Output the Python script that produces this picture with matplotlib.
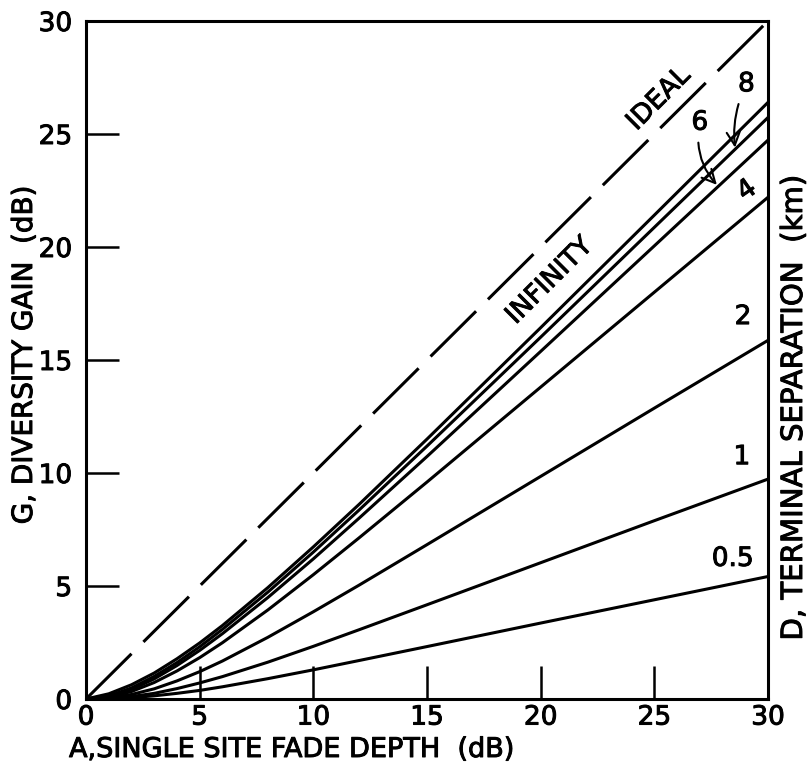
import matplotlib
matplotlib.use("Agg")
import matplotlib.pyplot as plt
import matplotlib.patheffects as pe

# Single site fade depth A (dB)
fade_depth = [0, 1, 2, 3, 4, 5, 6, 8, 10, 12, 15, 20, 25, 30]

# Diversity gain G (dB) for each terminal separation D
gain_inf = [0, 0.23, 0.63, 1.15, 1.78, 2.48, 3.25, 4.93, 6.73, 8.60, 11.50, 16.43, 21.41, 26.40]
gain_d8 = [0, 0.13, 0.49, 1.00, 1.61, 2.31, 3.08, 4.73, 6.50, 8.35, 11.19, 16.01, 20.87, 25.73]
gain_d6 = [0, 0.11, 0.42, 0.89, 1.48, 2.15, 2.89, 4.49, 6.20, 7.99, 10.73, 15.38, 20.05, 24.73]
gain_d4 = [0, 0.08, 0.33, 0.73, 1.24, 1.83, 2.49, 3.94, 5.50, 7.12, 9.60, 13.80, 18.00, 22.20]
gain_d2 = [0, 0.04, 0.20, 0.45, 0.80, 1.21, 1.68, 2.73, 3.86, 5.03, 6.83, 9.85, 12.87, 15.87]
gain_d1 = [0, 0.02, 0.11, 0.25, 0.46, 0.71, 0.99, 1.63, 2.33, 3.06, 4.17, 6.03, 7.89, 9.73]
gain_d05 = [0, 0.01, 0.06, 0.14, 0.25, 0.38, 0.54, 0.90, 1.29, 1.70, 2.32, 3.36, 4.39, 5.42]

ideal_line = [0, 30]

ticks = [0, 5, 10, 15, 20, 25, 30]
tick_labels = ["0", "5", "10", "15", "20", "25", "30"]

plt.rcParams["font.family"] = ["DejaVu Sans"]

# slightly heavier strokes for the hand-lettered look
heavy = [pe.withStroke(linewidth=0.7, foreground="black")]

fig = plt.figure(figsize=(8.09, 7.69), dpi=100)
ax = fig.add_axes([86 / 809, 70 / 769, 682 / 809, 678 / 769])

lw = 2.2
ax.plot(ideal_line, ideal_line, color="black", lw=lw,
        linestyle=(0, (21, 5.5)), solid_capstyle="butt")
for g in (gain_inf, gain_d8, gain_d6, gain_d4, gain_d2, gain_d1, gain_d05):
    ax.plot(fade_depth, g, color="black", lw=lw, solid_capstyle="round")

ax.set_xlim(0, 30)
ax.set_ylim(0, 30)
for side in ("left", "bottom", "right", "top"):
    ax.spines[side].set_linewidth(2.2)

ax.set_xticks(ticks)
ax.set_xticklabels(tick_labels)
ax.set_yticks(ticks)
ax.set_yticklabels(tick_labels)
ax.tick_params(axis="both", direction="in", length=24, width=1.8,
               labelsize=19)
ax.tick_params(axis="x", pad=4)
ax.tick_params(axis="y", pad=10)
for lab in ax.get_xticklabels() + ax.get_yticklabels():
    lab.set_path_effects(heavy)

# Axis titles
fig.text(69 / 809, 1 - 750 / 769, "A,SINGLE SITE FADE DEPTH  (dB)",
         fontsize=19.5, ha="left", va="center", path_effects=heavy)
fig.text(24 / 809, 1 - 355 / 769, "G, DIVERSITY GAIN  (dB)",
         fontsize=20, ha="center", va="center", rotation=90,
         path_effects=heavy)
fig.text(794 / 809, 1 - 408 / 769, "D, TERMINAL SEPARATION  (km)",
         fontsize=21, ha="center", va="center", rotation=90,
         path_effects=heavy)

# Curve labels
txt = dict(fontsize=19, ha="center", va="center", path_effects=heavy)
ax.text(25.2, 26.55, "IDEAL", rotation=45, **txt)
ax.text(20.4, 18.5, "INFINITY", rotation=45, **txt)
ax.text(29.08, 22.5, "4", rotation=35, **txt)
ax.text(28.9, 16.9, "2", **txt)
ax.text(28.85, 10.7, "1", **txt)
ax.text(28.45, 6.2, "0.5", **txt)

arrow = dict(arrowstyle="->,head_length=0.5,head_width=0.25", color="black",
             lw=1.5, shrinkA=3, shrinkB=0)
ax.annotate("8", xy=(28.55, 24.4), xytext=(29.05, 27.2),
            arrowprops=dict(connectionstyle="arc3,rad=0.15", **arrow), **txt)
ax.annotate("6", xy=(27.75, 22.75), xytext=(27.0, 25.5),
            arrowprops=dict(connectionstyle="arc3,rad=0.25", **arrow), **txt)

fig.savefig("out.png", dpi=100)
